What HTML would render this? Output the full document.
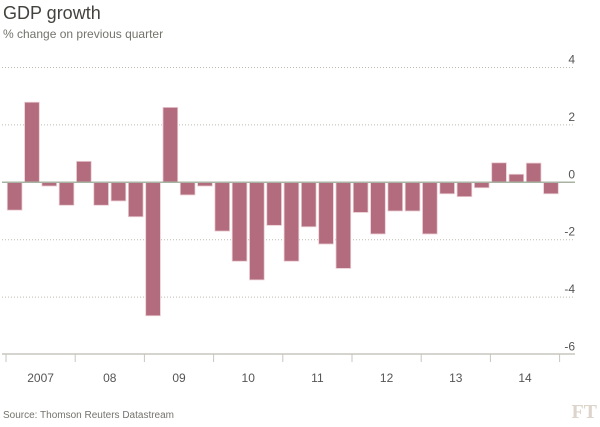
<!DOCTYPE html>
<html><head><meta charset="utf-8"><style>
body{margin:0;width:600px;height:422px;background:#fff;font-family:"Liberation Sans",sans-serif;overflow:hidden}
</style></head><body>
<svg width="600" height="422">
<text x="3" y="19" font-size="18" fill="#43423e">GDP growth</text>
<text x="3" y="38" font-size="12" fill="#74736c">% change on previous quarter</text>
<g id="grid"></g><g id="bars"></g><g id="axis"></g>
<text x="3" y="418" font-size="10" fill="#74736c">Source: Thomson Reuters Datastream</text>
<text x="597" y="418" font-size="20" font-family="Liberation Serif,serif" font-weight="bold" fill="#ddd4cb" text-anchor="end">FT</text>
</svg>
<script>
const years=["2007","08","09","10","11","12","13","14"];
const values=[-0.97,2.79,-0.13,-0.8,0.73,-0.8,-0.65,-1.2,-4.65,2.61,-0.44,-0.13,-1.7,-2.75,-3.4,-1.5,-2.75,-1.55,-2.15,-3.0,-1.05,-1.8,-1.0,-1.0,-1.8,-0.4,-0.5,-0.19,0.68,0.28,0.67,-0.4];
const yTicks=[4,2,0,-2,-4,-6];
const NS="http://www.w3.org/2000/svg";
const y0=182.3,k=28.7,x0=6,pitch=17.3;
const y=v=>y0-v*k, x=i=>x0+1.3+pitch*i;
function mk(t,a,p){const e=document.createElementNS(NS,t);for(const n in a)e.setAttribute(n,a[n]);p.appendChild(e);return e;}
const grid=document.getElementById('grid'),bars=document.getElementById('bars'),axis=document.getElementById('axis');
yTicks.forEach(v=>{
  if(v!==0&&v!==-6){const l=mk('line',{x1:2,x2:575,y1:y(v),y2:y(v),stroke:'#bfbab2','stroke-width':1,'stroke-dasharray':'1,2'},grid);
  
  }
  const t=mk('text',{x:575,y:y(v)-4,'font-size':12,fill:'#555','text-anchor':'end'},grid);t.textContent=v;
  
  
});
values.forEach((v,i)=>{
  const r=mk('rect',{x:x(i),y:Math.min(y(v),y0),width:14.7,height:Math.abs(y(v)-y0),fill:'#b36c7e',stroke:'#e9cdd3','stroke-width':0.8},bars);
  
  
});
const z=mk('line',{x1:2,x2:575,y1:y0,y2:y0,stroke:'#a9b3a3','stroke-width':1.5},axis);


const b=mk('line',{x1:2,x2:575,y1:354,y2:354,stroke:'#c9c5bd','stroke-width':1.5},axis);


for(let j=0;j<=years.length;j++){
  const tx=x0+pitch*4*j;
  const t=mk('line',{x1:tx,x2:tx,y1:354,y2:362,stroke:'#c9c5bd','stroke-width':1},axis);
  
  
  if(j<years.length){const l=mk('text',{x:tx+pitch*2,y:382,'font-size':12,fill:'#555','text-anchor':'middle'},axis);l.textContent=years[j];
  
  }
}
</script>
</body></html>
